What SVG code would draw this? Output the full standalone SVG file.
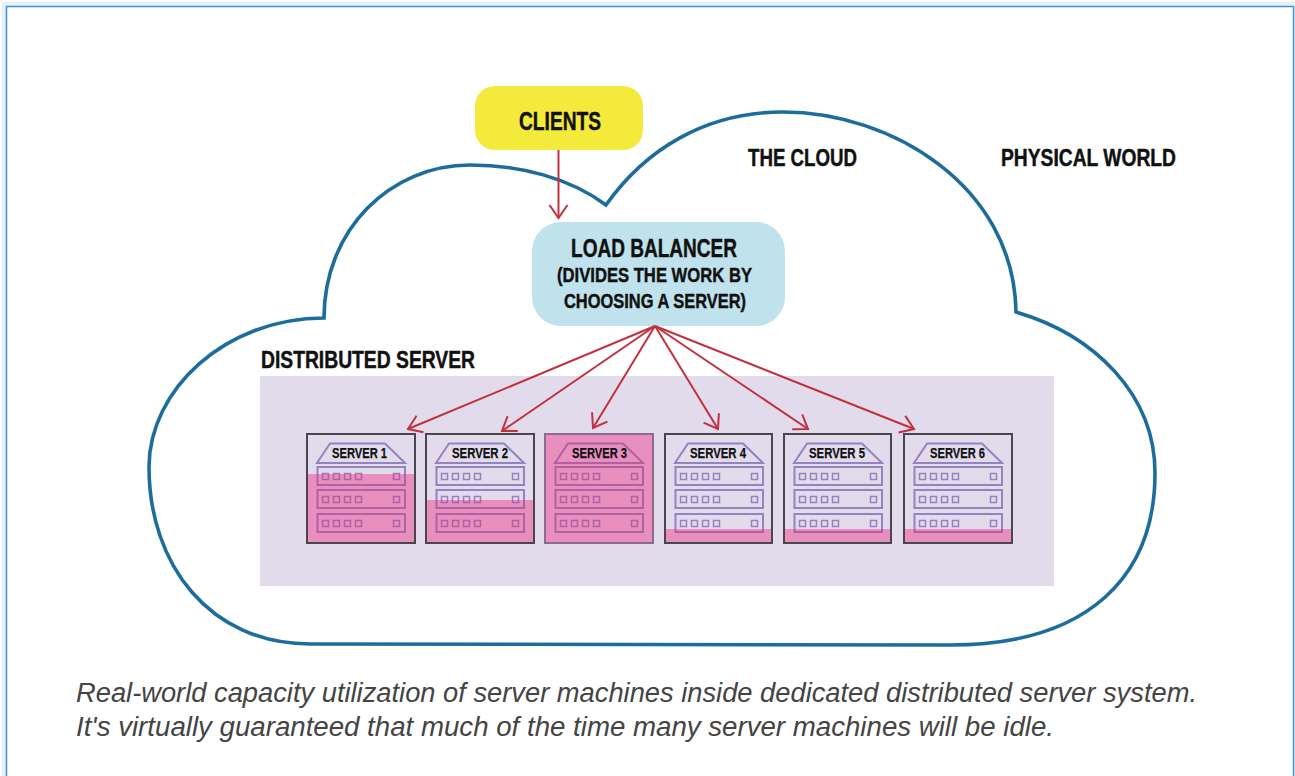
<svg xmlns="http://www.w3.org/2000/svg" xmlns:xlink="http://www.w3.org/1999/xlink" width="1295" height="776" viewBox="0 0 1295 776">
<style>
.lab{font-family:"Liberation Sans Narrow","Liberation Sans",Arial,sans-serif;font-weight:700;fill:#111;stroke:#111;stroke-width:.45}
.srv{font-size:15px;stroke-width:.25}
.cap{font-family:"Liberation Sans",Arial,sans-serif;font-style:italic;font-size:27px;fill:#444}
.box{fill:none;stroke:#4a4650;stroke-width:2}
.pink{fill:#e88fc0}
.normal{fill:none;stroke:#9583be;stroke-width:2}
.onpink{fill:none;stroke:#b0619f;stroke-width:2}
.arrow{fill:none;stroke:#c2303f;stroke-width:2}
</style>
<defs>
<marker id="open" markerUnits="userSpaceOnUse" markerWidth="30" markerHeight="30" refX="15" refY="15" orient="auto" overflow="visible">
<path d="M2,6 L15,15 L2,24" fill="none" stroke="#c2303f" stroke-width="2"/>
</marker>
<clipPath id="c1"><rect y="40" width="108" height="69"/></clipPath>
<clipPath id="c2"><rect y="66" width="108" height="43"/></clipPath>
<clipPath id="c4"><rect y="95" width="108" height="14"/></clipPath>
<g id="racks">
<path d="M10,29 L23,9.500 L78,9.500 L98,29 Z"/>
<g id="r1"><rect x="10.500" y="33" width="87.500" height="18"/>
<path stroke-width="1.500" d="M15.500,39.500h6v6h-6z M26.500,39.500h6v6h-6z M37.500,39.500h6v6h-6z M48.500,39.500h6v6h-6z M86.500,39.500h6v6h-6z"/></g>
<use href="#r1" y="23"/>
<use href="#r1" y="47"/>
</g>
</defs>
<rect id="frame-glow" x="4" y="4" width="1292" height="800" fill="none" stroke="#dfeaf5" stroke-width="5" opacity=".7"/>
<rect id="frame" x="6.500" y="6.500" width="1287" height="800" fill="#fff" stroke="#3f95d9" stroke-width="1.500"/>
<path id="cloud" fill="none" stroke="#1c6c9c" stroke-width="3.600" stroke-linejoin="miter" d="M606,205 C645,150 705,112 783,112 C890,112 1014,185 1016,312 C1095,335 1155,395 1155,473 C1155,575 1090,645 950,645 L310,644 C210,644 149,565 149,467 C149,390 225,318 324,318 C324,230 390,165 470,165 C520,165 570,178 606,205 Z"/>
<g id="distributed-server">
<rect x="260" y="376" width="794" height="210" fill="#e1dbec"/>
<text class="lab" x="261" y="368" font-size="24" textLength="214" lengthAdjust="spacingAndGlyphs">DISTRIBUTED SERVER</text>
</g>
<g id="clients">
<rect x="475" y="86" width="168" height="64" rx="20" fill="#f4ea3c"/>
<text class="lab" x="519" y="130" font-size="25" textLength="82" lengthAdjust="spacingAndGlyphs">CLIENTS</text>
</g>
<g id="load-balancer">
<rect x="532" y="222" width="253" height="104" rx="29" fill="#bfe2ec"/>
<text class="lab" x="571" y="257" font-size="25" textLength="166" lengthAdjust="spacingAndGlyphs">LOAD BALANCER</text>
<text class="lab" x="557" y="282" font-size="21" textLength="195" lengthAdjust="spacingAndGlyphs">(DIVIDES THE WORK BY</text>
<text class="lab" x="564" y="308" font-size="21" textLength="182" lengthAdjust="spacingAndGlyphs">CHOOSING A SERVER)</text>
</g>
<text id="the-cloud" class="lab" x="748" y="166" font-size="23" textLength="109" lengthAdjust="spacingAndGlyphs">THE CLOUD</text>
<text id="physical-world" class="lab" x="1001" y="166" font-size="23" textLength="175" lengthAdjust="spacingAndGlyphs">PHYSICAL WORLD</text>
<g id="server-1" transform="translate(307,434)">
<use class="normal" href="#racks"/>
<rect class="pink" y="40" width="108" height="69"/>
<use class="onpink" href="#racks" clip-path="url(#c1)"/>
<rect class="box" width="108" height="109"/>
<text class="lab srv" x="25" y="24" textLength="55" lengthAdjust="spacingAndGlyphs">SERVER 1</text>
</g>
<g id="server-2" transform="translate(426,434)">
<use class="normal" href="#racks"/>
<rect class="pink" y="66" width="108" height="43"/>
<use class="onpink" href="#racks" clip-path="url(#c2)"/>
<rect class="box" width="108" height="109"/>
<text class="lab srv" x="26" y="24" textLength="56" lengthAdjust="spacingAndGlyphs">SERVER 2</text>
</g>
<g id="server-3" transform="translate(545,434)">
<rect class="pink" width="108" height="109"/>
<use class="onpink" href="#racks"/>
<rect class="box" width="108" height="109" style="stroke:#8d6a8f"/>
<text class="lab srv" x="27" y="24" textLength="55" lengthAdjust="spacingAndGlyphs">SERVER 3</text>
</g>
<g id="server-4" transform="translate(665,434)">
<use class="normal" href="#racks"/>
<rect class="pink" y="95" width="107" height="14"/>
<use class="onpink" href="#racks" clip-path="url(#c4)"/>
<rect class="box" width="107" height="109"/>
<text class="lab srv" x="25" y="24" textLength="56" lengthAdjust="spacingAndGlyphs">SERVER 4</text>
</g>
<g id="server-5" transform="translate(784,434)">
<use class="normal" href="#racks"/>
<rect class="pink" y="95" width="107" height="14"/>
<use class="onpink" href="#racks" clip-path="url(#c4)"/>
<rect class="box" width="107" height="109"/>
<text class="lab srv" x="25" y="24" textLength="56" lengthAdjust="spacingAndGlyphs">SERVER 5</text>
</g>
<g id="server-6" transform="translate(904,434)">
<use class="normal" href="#racks"/>
<rect class="pink" y="95" width="108" height="14"/>
<use class="onpink" href="#racks" clip-path="url(#c4)"/>
<rect class="box" width="108" height="109"/>
<text class="lab srv" x="26" y="24" textLength="55" lengthAdjust="spacingAndGlyphs">SERVER 6</text>
</g>
<g id="connectors">
<line class="arrow" x1="558.500" y1="150" x2="558.500" y2="218" marker-end="url(#open)"/>
<line class="arrow" x1="655" y1="326" x2="408" y2="429" marker-end="url(#open)"/>
<line class="arrow" x1="655" y1="326" x2="502" y2="431" marker-end="url(#open)"/>
<line class="arrow" x1="655" y1="326" x2="593" y2="428" marker-end="url(#open)"/>
<line class="arrow" x1="655" y1="326" x2="718" y2="429" marker-end="url(#open)"/>
<line class="arrow" x1="655" y1="326" x2="808" y2="429" marker-end="url(#open)"/>
<line class="arrow" x1="655" y1="326" x2="914" y2="429" marker-end="url(#open)"/>
</g>
<g id="caption">
<text class="cap" x="76" y="702" textLength="1121" lengthAdjust="spacingAndGlyphs">Real-world capacity utilization of server machines inside dedicated distributed server system.</text>
<text class="cap" x="76" y="736" textLength="978" lengthAdjust="spacingAndGlyphs">It's virtually guaranteed that much of the time many server machines will be idle.</text>
</g>
</svg>
